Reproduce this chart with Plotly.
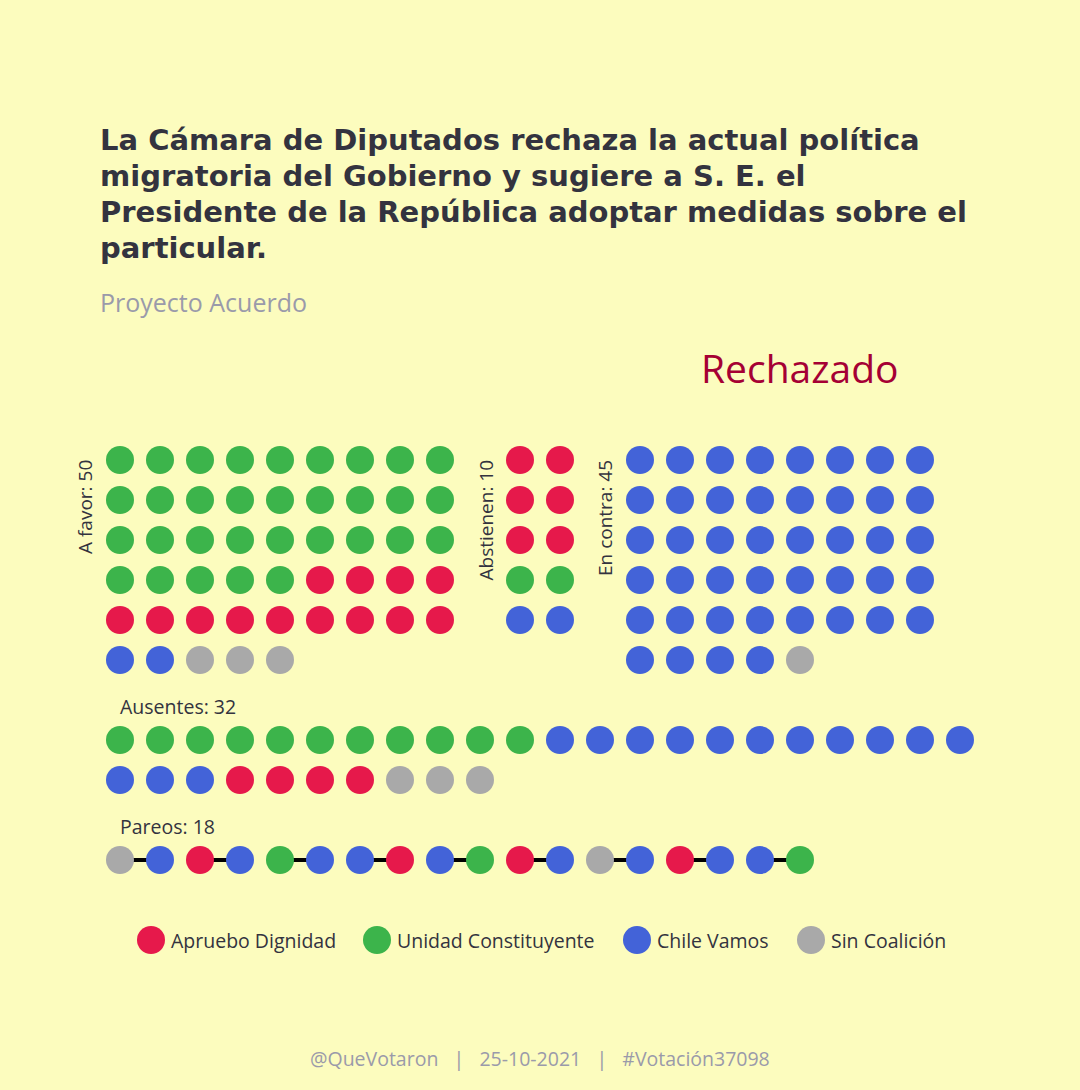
import plotly.graph_objects as go

# ---------------- data ----------------
parties = ["Apruebo Dignidad", "Unidad Constituyente", "Chile Vamos", "Sin Coalición"]
party_colors = ["#E6194B", "#3CB44B", "#4363D8", "#A9A9A9"]

a_favor_parties = ["Unidad Constituyente", "Apruebo Dignidad", "Chile Vamos", "Sin Coalición"]
a_favor_counts = [32, 13, 2, 3]

abstienen_parties = ["Apruebo Dignidad", "Unidad Constituyente", "Chile Vamos"]
abstienen_counts = [6, 2, 2]

en_contra_parties = ["Chile Vamos", "Sin Coalición"]
en_contra_counts = [44, 1]

ausentes_parties = ["Unidad Constituyente", "Chile Vamos", "Apruebo Dignidad", "Sin Coalición"]
ausentes_counts = [11, 14, 4, 3]

pareos_pairs = [
    ("Sin Coalición", "Chile Vamos"),
    ("Apruebo Dignidad", "Chile Vamos"),
    ("Unidad Constituyente", "Chile Vamos"),
    ("Chile Vamos", "Apruebo Dignidad"),
    ("Chile Vamos", "Unidad Constituyente"),
    ("Apruebo Dignidad", "Chile Vamos"),
    ("Sin Coalición", "Chile Vamos"),
    ("Apruebo Dignidad", "Chile Vamos"),
    ("Chile Vamos", "Unidad Constituyente"),
]

title_lines = [
    "La Cámara de Diputados rechaza la actual política",
    "migratoria del Gobierno y sugiere a S. E. el",
    "Presidente de la República adoptar medidas sobre el",
    "particular.",
]
subtitle = "Proyecto Acuerdo"
result = "Rechazado"
footer = "@QueVotaron   |   25-10-2021   |   #Votación37098"

# ---------------- layout constants ----------------
BG = "#FCFCBE"
STEP = 40
DOT = 28
FONT = "Open Sans"
TITLE_FONT = "DejaVu Sans"
TXT = "#33333F"
GREY_TXT = "#9A9AAA"

positions = {p: ([], []) for p in parties}


def place(party_list, counts, x0, y0, ncols):
    i = 0
    for p, c in zip(party_list, counts):
        for _ in range(c):
            positions[p][0].append(x0 + (i % ncols) * STEP)
            positions[p][1].append(y0 + (i // ncols) * STEP)
            i += 1


place(a_favor_parties, a_favor_counts, 120, 460, 9)
place(abstienen_parties, abstienen_counts, 520, 460, 2)
place(en_contra_parties, en_contra_counts, 640, 460, 8)
place(ausentes_parties, ausentes_counts, 120, 740, 22)

# pareos
line_x, line_y = [], []
for k, (a, b) in enumerate(pareos_pairs):
    xa = 120 + (2 * k) * STEP
    xb = xa + STEP
    positions[a][0].append(xa)
    positions[a][1].append(860)
    positions[b][0].append(xb)
    positions[b][1].append(860)
    line_x += [xa, xb, None]
    line_y += [860, 860, None]

fig = go.Figure()
fig.add_trace(go.Scatter(x=line_x, y=line_y, mode="lines",
                         line=dict(color="black", width=4),
                         hoverinfo="skip", showlegend=False))
for p, c in zip(parties, party_colors):
    xs, ys = positions[p]
    fig.add_trace(go.Scatter(x=xs, y=ys, mode="markers", name=p,
                             marker=dict(size=DOT, color=c, line=dict(width=0)),
                             showlegend=False))

# manual legend
legend_x = [151, 377, 637, 811]
for p, c, lx in zip(parties, party_colors, legend_x):
    fig.add_trace(go.Scatter(x=[lx], y=[940], mode="markers",
                             marker=dict(size=DOT, color=c, line=dict(width=0)),
                             hoverinfo="skip", showlegend=False))
    fig.add_annotation(x=lx + 18, y=940, text=p, showarrow=False,
                       xanchor="left", yanchor="middle",
                       font=dict(family=FONT, size=19.5, color=TXT))

ann = []
for i, line in enumerate(title_lines):
    ann.append(dict(x=98, y=140 + i * 36, text="<b>" + line + "</b>", showarrow=False,
                    xanchor="left", yanchor="middle",
                    font=dict(family=TITLE_FONT, size=29, color=TXT)))
ann.append(dict(x=98, y=302, text=subtitle, showarrow=False, xanchor="left",
                yanchor="middle", font=dict(family=FONT, size=25, color=GREY_TXT)))
ann.append(dict(x=800, y=367, text=result, showarrow=False, xanchor="center",
                yanchor="middle", font=dict(family=FONT, size=39, color="#A50034")))

group_labels = [
    ("A favor: " + str(sum(a_favor_counts)), 85),
    ("Abstienen: " + str(sum(abstienen_counts)), 485),
    ("En contra: " + str(sum(en_contra_counts)), 605),
]
for t, x in group_labels:
    ann.append(dict(x=x, y=458, text=t, textangle=-90, showarrow=False,
                    xanchor="center", yanchor="top",
                    font=dict(family=FONT, size=19, color=TXT)))
ann.append(dict(x=118, y=706, text="Ausentes: " + str(sum(ausentes_counts)),
                showarrow=False, xanchor="left", yanchor="middle",
                font=dict(family=FONT, size=19.5, color=TXT)))
ann.append(dict(x=118, y=826, text="Pareos: " + str(2 * len(pareos_pairs)),
                showarrow=False, xanchor="left", yanchor="middle",
                font=dict(family=FONT, size=19.5, color=TXT)))
ann.append(dict(x=540, y=1058, text=footer, showarrow=False, xanchor="center",
                yanchor="middle", font=dict(family=FONT, size=19.5, color=GREY_TXT)))

for a in ann:
    fig.add_annotation(**a)

fig.update_layout(
    width=1080, height=1090,
    margin=dict(l=0, r=0, t=0, b=0),
    paper_bgcolor=BG, plot_bgcolor=BG,
    xaxis=dict(range=[0, 1080], visible=False, fixedrange=True),
    yaxis=dict(range=[1090, 0], visible=False, fixedrange=True),
    showlegend=False,
)

fig.write_html("out.html")
